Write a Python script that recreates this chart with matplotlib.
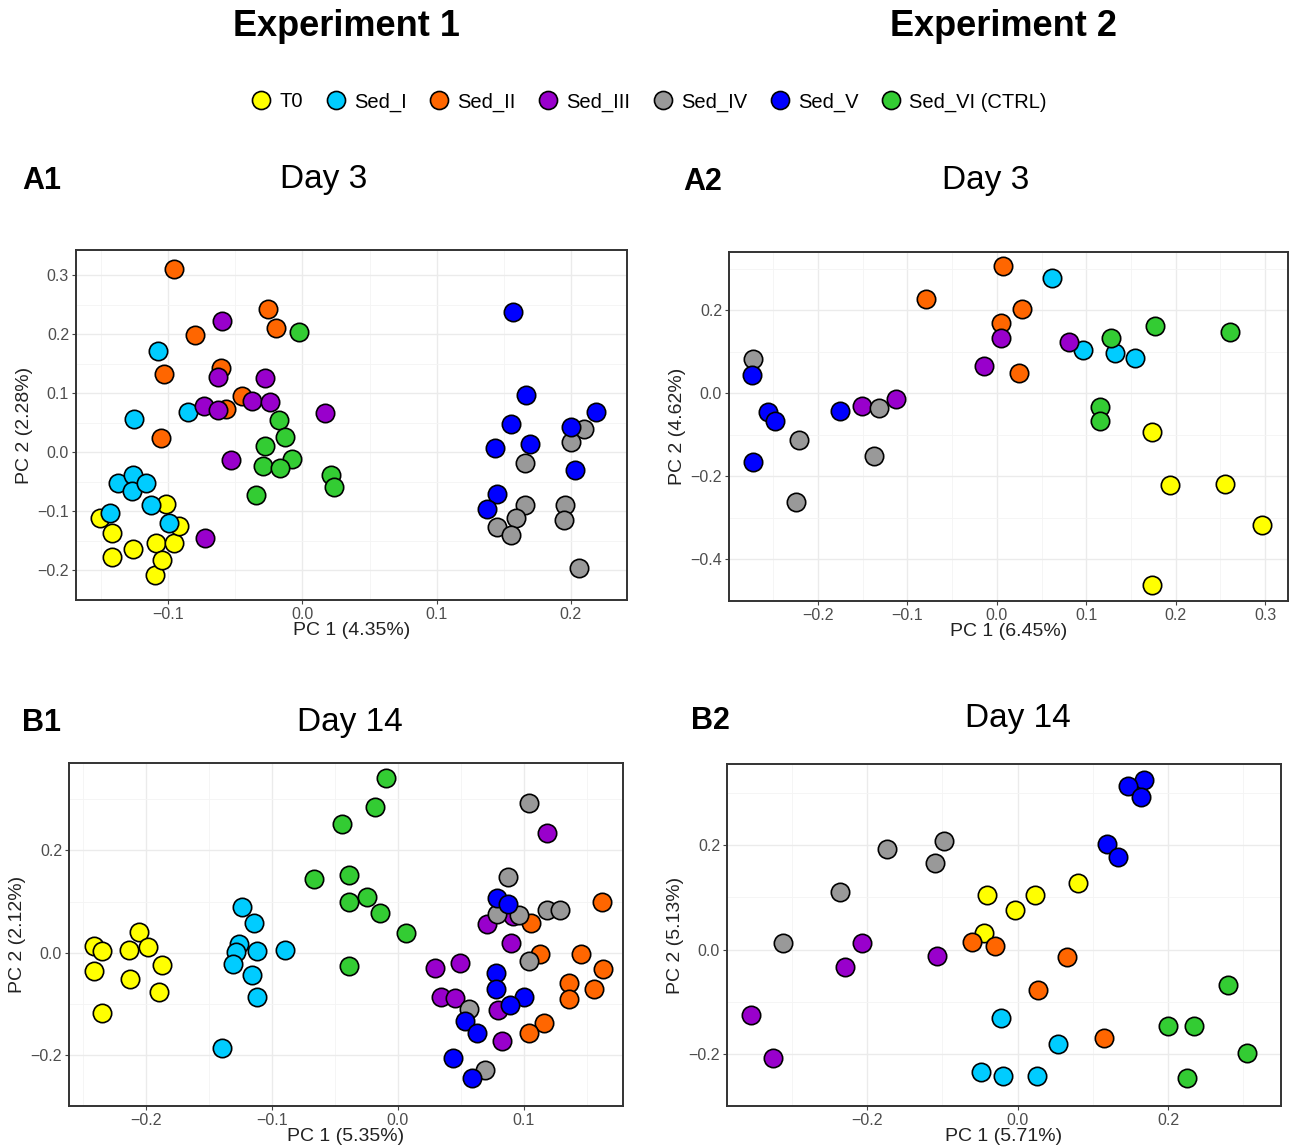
import matplotlib
matplotlib.use("Agg")
import matplotlib.pyplot as plt
from matplotlib.lines import Line2D
import numpy as np

plt.rcParams['font.family'] = ['Liberation Sans', 'DejaVu Sans']

groups = ["T0", "Sed_I", "Sed_II", "Sed_III", "Sed_IV", "Sed_V", "Sed_VI (CTRL)"]
colours = ["#FFFF00", "#00CCFF", "#FF6600", "#9900CC", "#999999", "#0000FF", "#33CC33"]

# Experiment 1, day 3
a1_pc1 = {
    "T0": [-0.1506, -0.1416, -0.142, -0.1265, -0.109, -0.1096, -0.1048, -0.1018, -0.0955, -0.0916],
    "Sed_I": [-0.1075, -0.1253, -0.0852, -0.1377, -0.1265, -0.127, -0.1163, -0.113, -0.143, -0.0997],
    "Sed_II": [-0.0955, -0.080, -0.1033, -0.1054, -0.026, -0.020, -0.0608, -0.045, -0.057],
    "Sed_III": [-0.060, -0.0627, -0.028, -0.0735, -0.063, -0.0377, -0.0241, 0.0166, -0.0533, -0.0729],
    "Sed_IV": [0.2099, 0.2003, 0.166, 0.1657, 0.159, 0.1449, 0.1557, 0.1955, 0.1952, 0.2063],
    "Sed_V": [0.1572, 0.1666, 0.1554, 0.1437, 0.1699, 0.2003, 0.2187, 0.2027, 0.1449, 0.1373],
    "Sed_VI (CTRL)": [-0.0024, -0.0178, -0.0133, -0.0277, -0.0081, -0.0292, -0.0169, 0.0211, 0.0235, -0.0349],
}
a1_pc2 = {
    "T0": [-0.112, -0.137, -0.1765, -0.164, -0.153, -0.207, -0.182, -0.087, -0.153, -0.124],
    "Sed_I": [0.172, 0.0565, 0.0685, -0.0515, -0.038, -0.066, -0.0515, -0.090, -0.103, -0.119],
    "Sed_II": [0.310, 0.198, 0.132, 0.025, 0.243, 0.210, 0.143, 0.095, 0.0735],
    "Sed_III": [0.2226, 0.128, 0.125, 0.079, 0.071, 0.0866, 0.0855, 0.0674, -0.0126, -0.1447],
    "Sed_IV": [0.0389, 0.0181, -0.0175, -0.0888, -0.1107, -0.1272, -0.1393, -0.0888, -0.1151, -0.1963],
    "Sed_V": [0.2368, 0.0976, 0.0482, 0.0077, 0.0143, 0.0422, 0.0691, -0.0307, -0.0713, -0.0954],
    "Sed_VI (CTRL)": [0.2034, 0.0548, 0.0252, 0.011, -0.012, -0.023, -0.0269, -0.0378, -0.0587, -0.0724],
}

# Experiment 2, day 3
a2_pc1 = {
    "T0": [0.1738, 0.1937, 0.2557, 0.297, 0.1738],
    "Sed_I": [0.062, 0.0959, 0.132, 0.1548],
    "Sed_II": [0.0068, -0.079, 0.0276, 0.005, 0.0253],
    "Sed_III": [0.005, 0.081, -0.0145, -0.151, -0.113],
    "Sed_IV": [-0.2733, -0.2217, -0.2249, -0.137, -0.1321],
    "Sed_V": [-0.2738, -0.2724, -0.2561, -0.2484, -0.1756],
    "Sed_VI (CTRL)": [0.177, 0.261, 0.128, 0.1154, 0.1154],
}
a2_pc2 = {
    "T0": [-0.0932, -0.2209, -0.2193, -0.318, -0.4618],
    "Sed_I": [0.278, 0.1036, 0.0964, 0.0835],
    "Sed_II": [0.307, 0.2257, 0.2024, 0.1687, 0.049],
    "Sed_III": [0.1325, 0.122, 0.0659, -0.0305, -0.0145],
    "Sed_IV": [0.0819, -0.114, -0.2627, -0.1518, -0.0353],
    "Sed_V": [0.0442, -0.167, -0.0458, -0.0667, -0.0434],
    "Sed_VI (CTRL)": [0.1606, 0.1478, 0.1317, -0.033, -0.068],
}

# Experiment 1, day 14
b1_pc1 = {
    "T0": [-0.241, -0.2352, -0.241, -0.2135, -0.2054, -0.1983, -0.1872, -0.2128, -0.1898, -0.2352],
    "Sed_I": [-0.1237, -0.1144, -0.126, -0.1286, -0.1121, -0.0897, -0.1305, -0.116, -0.1118, -0.1393],
    "Sed_II": [0.1623, 0.1059, 0.1124, 0.1454, 0.1626, 0.136, 0.1552, 0.136, 0.116, 0.1043],
    "Sed_III": [0.1186, 0.0709, 0.0914, 0.09, 0.0292, 0.0492, 0.034, 0.0454, 0.0794, 0.0823],
    "Sed_IV": [0.1037, 0.0871, 0.0787, 0.0959, 0.1182, 0.1289, 0.1037, 0.0564, 0.0693],
    "Sed_V": [0.0787, 0.0875, 0.0781, 0.0781, 0.1004, 0.0888, 0.0531, 0.0628, 0.0437, 0.059],
    "Sed_VI (CTRL)": [-0.0094, -0.0181, -0.0447, -0.0664, -0.0385, -0.0246, -0.0392, -0.0143, 0.0068, -0.0385],
}
b1_pc2 = {
    "T0": [0.0138, 0.0025, -0.0356, 0.005, 0.0413, 0.0113, -0.0244, -0.0525, -0.0763, -0.118],
    "Sed_I": [0.09, 0.058, 0.0175, 0.0019, 0.0038, 0.0044, -0.0219, -0.0431, -0.0875, -0.1875],
    "Sed_II": [0.0988, 0.0581, -0.0031, -0.0031, -0.0319, -0.0588, -0.0719, -0.09, -0.1375, -0.1563],
    "Sed_III": [0.2331, 0.0563, 0.0719, 0.0188, -0.03, -0.0194, -0.0875, -0.0888, -0.1119, -0.1719],
    "Sed_IV": [0.2931, 0.1481, 0.0756, 0.0738, 0.0825, 0.0825, -0.0163, -0.1094, -0.2294],
    "Sed_V": [0.1069, 0.095, -0.04, -0.0706, -0.0869, -0.1031, -0.1344, -0.1575, -0.2056, -0.245],
    "Sed_VI (CTRL)": [0.3425, 0.2856, 0.2513, 0.1438, 0.1519, 0.1081, 0.1, 0.0769, 0.0381, -0.0269],
}

# Experiment 2, day 14
b2_pc1 = {
    "T0": [0.0803, -0.0412, 0.023, -0.0037, -0.045],
    "Sed_I": [-0.022, 0.0541, -0.0482, -0.0198, 0.0252],
    "Sed_II": [-0.0605, -0.03, 0.0653, 0.0268, 0.1151],
    "Sed_III": [-0.2062, -0.2287, -0.1066, -0.354, -0.3245],
    "Sed_IV": [-0.098, -0.174, -0.1092, -0.2356, -0.3111],
    "Sed_V": [0.1681, 0.1462, 0.1639, 0.1194, 0.1333],
    "Sed_VI (CTRL)": [0.2795, 0.2003, 0.2345, 0.3052, 0.2249],
}
b2_pc2 = {
    "T0": [0.1272, 0.1045, 0.1045, 0.075, 0.0307],
    "Sed_I": [-0.1321, -0.1813, -0.2353, -0.2433, -0.2421],
    "Sed_II": [0.0135, 0.0061, -0.0135, -0.0768, -0.1702],
    "Sed_III": [0.0123, -0.0326, -0.0123, -0.126, -0.2089],
    "Sed_IV": [0.2089, 0.1923, 0.1659, 0.1106, 0.0117],
    "Sed_V": [0.3257, 0.3134, 0.2931, 0.2028, 0.177],
    "Sed_VI (CTRL)": [-0.0682, -0.1462, -0.1462, -0.1978, -0.2458],
}

W, H = 1290, 1147
fig = plt.figure(figsize=(W / 100, H / 100), dpi=100)


def px_axes(left, top, right, bottom):
    return fig.add_axes([left / W, 1 - bottom / H, (right - left) / W, (bottom - top) / H])


def fmt(v):
    return ("%.1f" % v).replace("-", "\u2212")


def panel(ax, pc1, pc2, xlim, ylim, xt, yt, xlabel, ylabel):
    for g, c in zip(groups, colours):
        ax.scatter(pc1[g], pc2[g], s=175, c=c, edgecolors="black", linewidths=1.2, zorder=3)
    ax.set_xlim(xlim)
    ax.set_ylim(ylim)
    ax.set_xticks(xt)
    ax.set_yticks(yt)
    ax.set_xticklabels([fmt(v) for v in xt])
    ax.set_yticklabels([fmt(v) for v in yt])
    # minor grid halfway between the major ticks
    dx = xt[1] - xt[0]
    dy = yt[1] - yt[0]
    ax.set_xticks(np.arange(xt[0] - dx / 2, xlim[1], dx), minor=True)
    ax.set_yticks(np.arange(yt[0] - dy / 2, ylim[1], dy), minor=True)
    ax.grid(which="major", color="#EBEBEB", linewidth=1.0, zorder=0)
    ax.grid(which="minor", color="#F4F4F4", linewidth=0.6, zorder=0)
    ax.tick_params(which="minor", length=0)
    ax.tick_params(which="major", length=3, width=0.8, color="#444444",
                   labelsize=11.5, labelcolor="#4D4D4D", pad=2)
    for s in ax.spines.values():
        s.set_color("#333333")
        s.set_linewidth(1.4)
    ax.set_axisbelow(True)
    ax.set_xlabel(xlabel, fontsize=14, color="#222222", labelpad=0)
    ax.set_ylabel(ylabel, fontsize=14, color="#222222", labelpad=3)


ax = px_axes(76, 250, 627, 600)
panel(ax, a1_pc1, a1_pc2, (-0.1687, 0.2418), (-0.229, 0.3425),
      [-0.1, 0.0, 0.1, 0.2], [-0.2, -0.1, 0.0, 0.1, 0.2, 0.3], "PC 1 (4.35%)", "PC 2 (2.28%)")

ax = px_axes(729, 252, 1288, 601)
panel(ax, a2_pc1, a2_pc2, (-0.2996, 0.3257), (-0.501, 0.340),
      [-0.2, -0.1, 0.0, 0.1, 0.2, 0.3], [-0.4, -0.2, 0.0, 0.2], "PC 1 (6.45%)", "PC 2 (4.62%)")

ax = px_axes(69, 763, 623, 1106)
panel(ax, b1_pc1, b1_pc2, (-0.261, 0.1786), (-0.273, 0.371),
      [-0.2, -0.1, 0.0, 0.1], [-0.2, 0.0, 0.2], "PC 1 (5.35%)", "PC 2 (2.12%)")

ax = px_axes(727, 764, 1281, 1106)
panel(ax, b2_pc1, b2_pc2, (-0.386, 0.350), (-0.2778, 0.3556),
      [-0.2, 0.0, 0.2], [-0.2, 0.0, 0.2], "PC 1 (5.71%)", "PC 2 (5.13%)")

# headings
fig.text(346 / W, 1 - 27 / H, "Experiment 1", fontsize=26, fontweight="bold", ha="center", va="center")
fig.text(1003 / W, 1 - 27 / H, "Experiment 2", fontsize=26, fontweight="bold", ha="center", va="center")

for lab, x, y in [("A1", 22, 181), ("A2", 683, 182), ("B1", 22, 723), ("B2", 691, 721)]:
    fig.text(x / W, 1 - y / H, lab, fontsize=22, fontweight="bold", ha="left", va="center")
for lab, x, y in [("Day 3", 324, 179), ("Day 3", 986, 180), ("Day 14", 350, 722), ("Day 14", 1018, 719)]:
    fig.text(x / W, 1 - y / H, lab, fontsize=24, ha="center", va="center")

handles = [Line2D([], [], marker="o", linestyle="", markersize=13, markerfacecolor=c,
                  markeredgecolor="black", markeredgewidth=1.2) for c in colours]
fig.legend(handles, groups, loc="center", bbox_to_anchor=(648 / W, 1 - 102 / H), ncol=7,
           frameon=False, fontsize=14.5, handletextpad=0.3, columnspacing=1.02, handlelength=1.2)

fig.savefig("out.png", dpi=100)
